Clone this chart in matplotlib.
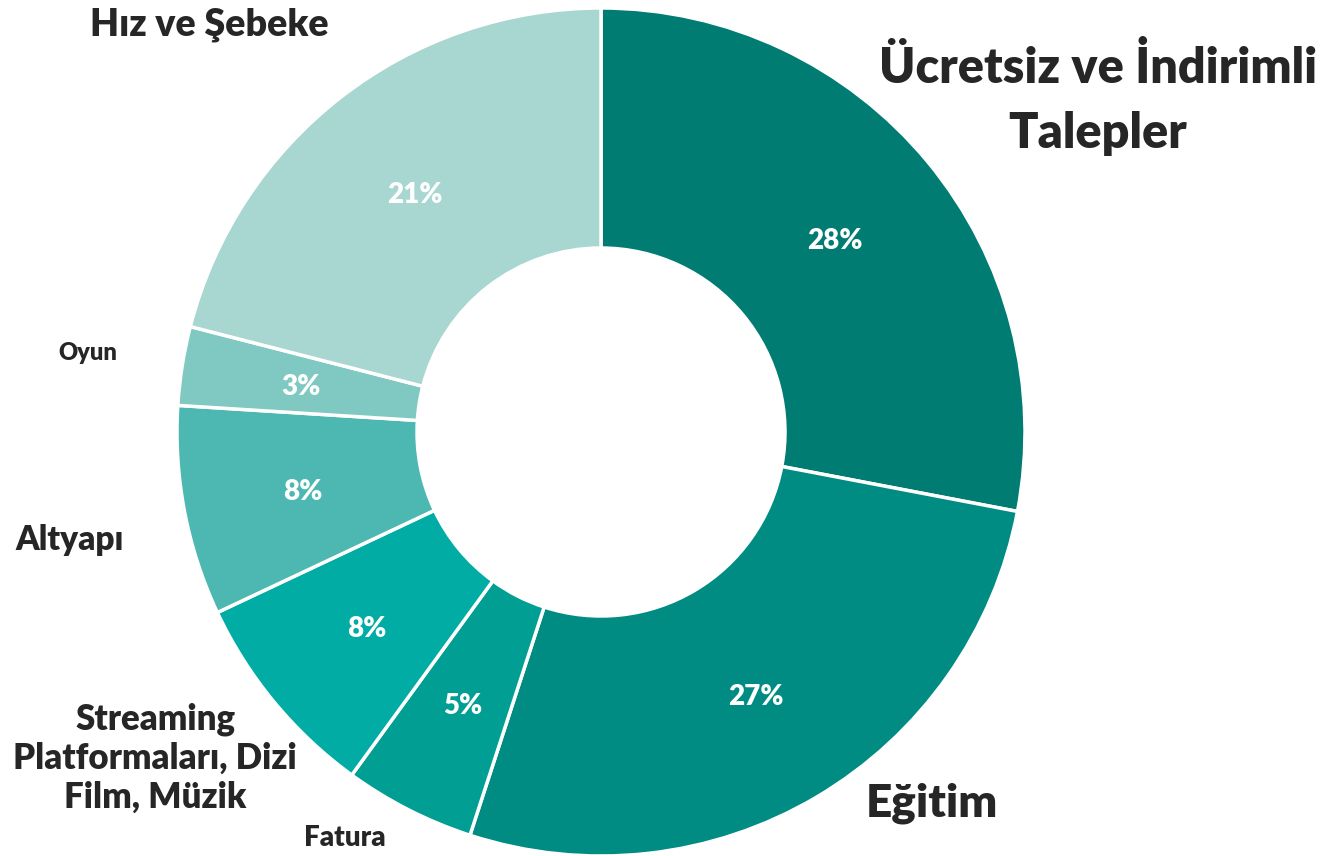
import numpy as np
import matplotlib.pyplot as plt

# Şikayet kategorileri ve payları (%)
categories = [
    "Ücretsiz ve İndirimli\nTalepler",
    "Eğitim",
    "Fatura",
    "Streaming\nPlatformaları, Dizi\nFilm, Müzik",
    "Altyapı",
    "Oyun",
    "Hız ve Şebeke",
]
shares = [28, 27, 5, 8, 8, 3, 21]
colors = ["#007C72", "#008C83", "#009E93", "#00ACA3", "#4DB8B1", "#80C9C2", "#A8D6D0"]

# kategori etiketleri: konum (piksel), yazı boyutu, satır aralığı
label_pos = [(1098, 100), (932, 803), (345, 838), (155, 758), (70, 540), (88, 353), (209, 25)]
label_size = [35, 33, 20, 25, 24, 17, 27]
label_spacing = [1.55, 1.2, 1.2, 1.22, 1.2, 1.2, 1.2]

plt.rcParams["font.family"] = ["Lato", "DejaVu Sans"]

W, H = 1326, 856
fig = plt.figure(figsize=(W / 100, H / 100), dpi=100)
ax = fig.add_axes([0, 0, 1, 1])

cx, cy = 601, H - 432
r_out, r_in = 424, 184

wedges, texts = ax.pie(
    shares,
    colors=colors,
    startangle=90,
    counterclock=False,
    center=(cx, cy),
    radius=r_out,
    frame=True,
    wedgeprops=dict(width=r_out - r_in, edgecolor="white", linewidth=2.5),
)
ax.set_xlim(0, W)
ax.set_ylim(0, H)
ax.set_aspect("equal")
ax.axis("off")

# yüzde etiketleri halkanın ortasında
r_mid = (r_out + r_in) / 2
for w, s in zip(wedges, shares):
    ang = np.deg2rad((w.theta1 + w.theta2) / 2)
    ax.text(cx + r_mid * np.cos(ang), cy + r_mid * np.sin(ang) - 3, f"{s}%",
            ha="center", va="center", color="white", fontsize=20, fontweight="heavy")

for name, (x, y), fs, ls in zip(categories, label_pos, label_size, label_spacing):
    ax.text(x, H - y, name, ha="center", va="center", color="#262626",
            fontsize=fs, fontweight="heavy", linespacing=ls)

fig.savefig("out.png", dpi=100)
